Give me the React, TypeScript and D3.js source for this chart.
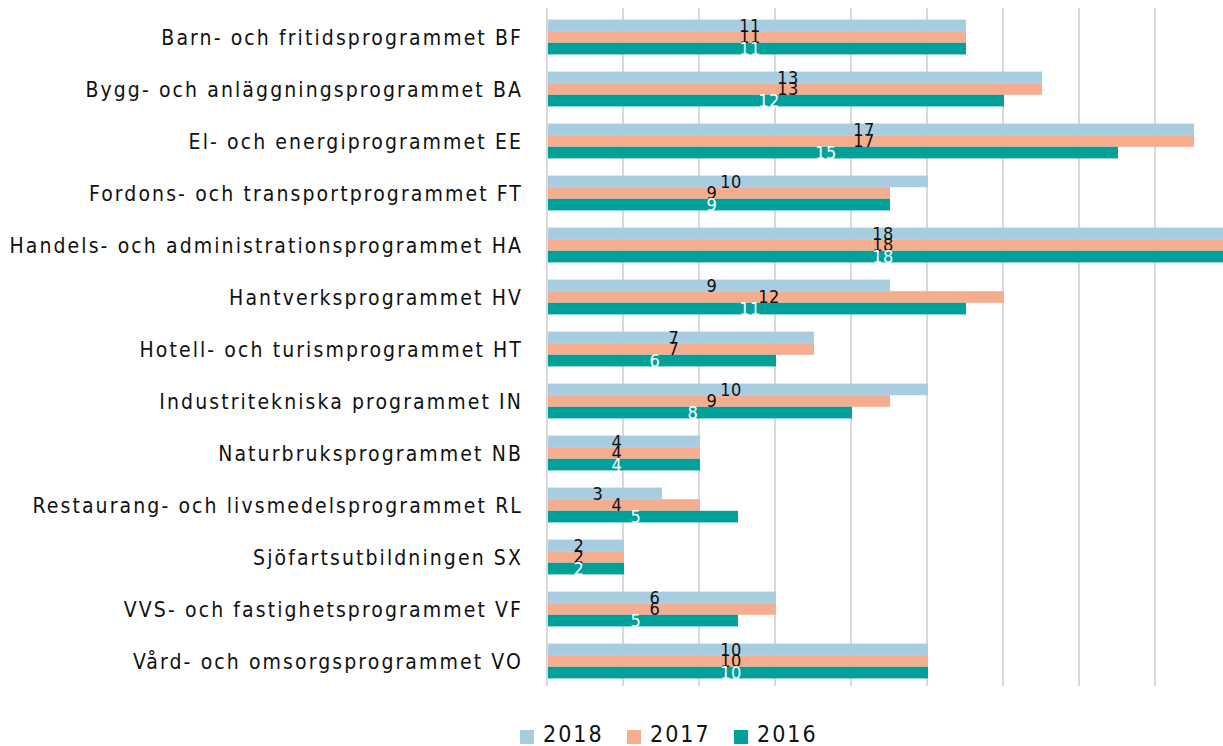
import React, { useEffect, useRef } from "react";
import * as d3 from "d3";

const categories = [
  "Barn- och fritidsprogrammet BF",
  "Bygg- och anläggningsprogrammet BA",
  "El- och energiprogrammet EE",
  "Fordons- och transportprogrammet FT",
  "Handels- och administrationsprogrammet HA",
  "Hantverksprogrammet HV",
  "Hotell- och turismprogrammet HT",
  "Industritekniska programmet IN",
  "Naturbruksprogrammet NB",
  "Restaurang- och livsmedelsprogrammet RL",
  "Sjöfartsutbildningen SX",
  "VVS- och fastighetsprogrammet VF",
  "Vård- och omsorgsprogrammet VO",
];

const years = ["2018", "2017", "2016"];
const values2018 = [11, 13, 17, 10, 18, 9, 7, 10, 4, 3, 2, 6, 10];
const values2017 = [11, 13, 17, 9, 18, 12, 7, 9, 4, 4, 2, 6, 10];
const values2016 = [11, 12, 15, 9, 18, 11, 6, 8, 4, 5, 2, 5, 10];
const xTicks = [0, 2, 4, 6, 8, 10, 12, 14, 16, 18, 20];

const colors = ["#a9cde0", "#f5ad90", "#00a19a"];
const labelColors = ["#111", "#111", "#fff"];
const font = "'DejaVu Sans Condensed', 'Liberation Sans Narrow', sans-serif";

const W = 1223;
const H = 746;

const App = () => {
  const ref = useRef<SVGSVGElement>(null);

  useEffect(() => {
    const svg = d3.select(ref.current);
    svg.selectAll("*").remove();

    const series = [values2018, values2017, values2016];

    const x = d3.scaleLinear().domain([0, 20]).range([548, 1308]);
    const y = d3.scaleBand().domain(categories).range([11, 687]).paddingInner(0.33).paddingOuter(0.165);
    const inner = d3.scaleBand().domain(years).range([0, y.bandwidth()]);

    // gridlines
    svg
      .append("g")
      .selectAll("line")
      .data(xTicks)
      .join("line")
      .attr("x1", d => x(d) - 1)
      .attr("x2", d => x(d) - 1)
      .attr("y1", 8)
      .attr("y2", 686)
      .attr("stroke", "#d9d9d9")
      .attr("stroke-width", 2);

    // category labels
    svg
      .append("g")
      .selectAll("text")
      .data(categories)
      .join("text")
      .attr("x", 523)
      .attr("y", d => (y(d) as number) + y.bandwidth() / 2 + 1)
      .attr("dy", "0.35em")
      .attr("text-anchor", "end")
      .attr("font-family", font)
      .attr("font-size", 21)
      .attr("letter-spacing", 2.1)
      .attr("fill", "#111")
      .text(d => d);

    // bars
    years.forEach((yr, si) => {
      const g = svg.append("g");
      g.selectAll("rect")
        .data(categories)
        .join("rect")
        .attr("x", x(0))
        .attr("y", d => (y(d) as number) + (inner(yr) as number))
        .attr("width", (d, i) => x(series[si][i]) - x(0))
        .attr("height", inner.bandwidth())
        .attr("fill", colors[si]);
    });

    // data labels
    years.forEach((yr, si) => {
      svg
        .append("g")
        .selectAll("text")
        .data(categories)
        .join("text")
        .attr("x", (d, i) => (x(0) + x(series[si][i])) / 2 - 7)
        .attr("y", d => (y(d) as number) + (inner(yr) as number) + inner.bandwidth() / 2)
        .attr("dy", "0.35em")
        .attr("text-anchor", "middle")
        .attr("font-family", font)
        .attr("font-size", 18)
        .attr("letter-spacing", 0.5)
        .attr("fill", labelColors[si])
        .text((d, i) => series[si][i]);
    });

    // legend
    const legendX = [520, 627, 734];
    const legend = svg.append("g");
    years.forEach((yr, si) => {
      legend
        .append("rect")
        .attr("x", legendX[si])
        .attr("y", 730)
        .attr("width", 14)
        .attr("height", 14)
        .attr("fill", colors[si]);
      legend
        .append("text")
        .attr("x", legendX[si] + 23)
        .attr("y", 742)
        .attr("font-family", font)
        .attr("font-size", 23)
        .attr("letter-spacing", 2)
        .attr("fill", "#111")
        .text(yr);
    });
  }, []);

  return (
    <svg
      ref={ref}
      width={W}
      height={H}
      style={{ position: "absolute", left: 0, top: 0, background: "#fff" }}
    />
  );
};

export default App;
